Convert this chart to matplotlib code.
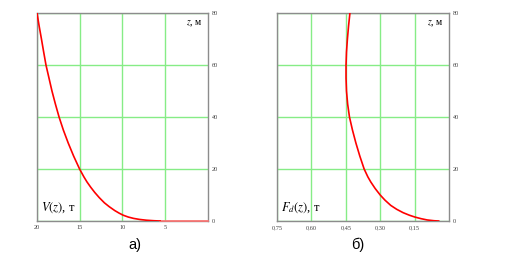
import matplotlib
matplotlib.use("Agg")
import matplotlib.pyplot as plt

plt.rcParams['font.family'] = ['Liberation Serif', 'DejaVu Serif']
plt.rcParams['mathtext.fontset'] = 'stix'

# panel a) V(z)
z_a = [80, 75, 70, 65, 60, 55, 50, 45, 40, 35, 30, 25, 20, 17, 15, 13, 11,
       9, 7, 5.5, 4, 3, 2.2, 1.5, 1.0, 0.6, 0.3, 0.1, 0]
v_a = [20, 19.75, 19.48, 19.22, 18.95, 18.6, 18.25, 17.85, 17.42, 16.92, 16.35,
       15.72, 15.02, 14.52, 14.15, 13.72, 13.25, 12.72, 12.12, 11.55, 10.9,
       10.38, 9.9, 9.3, 8.7, 8.0, 7.2, 6.3, 5.6]
v_tail = [5.6, 0]
z_tail = [0, 0]

# panel b) Fd(z)
z_b = [80, 75, 70, 65, 60, 55, 50, 45, 40, 35, 30, 25, 20, 17, 15, 12.5, 10,
       8, 6, 4.5, 3.2, 2.2, 1.5, 0.9, 0.4, 0.1, 0]
f_b = [0.432, 0.438, 0.443, 0.447, 0.449, 0.449, 0.447, 0.442, 0.434, 0.421,
       0.406, 0.389, 0.370, 0.354, 0.341, 0.322, 0.300, 0.279, 0.254, 0.228,
       0.200, 0.172, 0.148, 0.122, 0.095, 0.065, 0.045]

xt_a = [20, 15, 10, 5]
xt_b = [0.75, 0.60, 0.45, 0.30, 0.15]
yt = [0, 20, 40, 60, 80]

fig = plt.figure(figsize=(5.1, 2.56), dpi=100)
ax1 = fig.add_axes([37/510, 1-221/256, 171/510, 208/256])
ax2 = fig.add_axes([277/510, 1-221/256, 172/510, 208/256])

grid_c = '#86ec86'
for ax in (ax1, ax2):
    ax.set_ylim(0, 80)
    ax.set_yticks(yt)
    ax.set_yticklabels([str(t) for t in yt])
    ax.yaxis.tick_right()
    ax.tick_params(length=0, labelsize=4.5, colors='#404040', pad=3)
    for s in ax.spines.values():
        s.set_color('#8c8c8c')
        s.set_linewidth(1)
    ax.grid(True, color=grid_c, lw=1)
    ax.set_axisbelow(True)

ax1.set_xlim(20, 0)
ax1.set_xticks(xt_a)
ax1.set_xticklabels([str(t) for t in xt_a])
ax1.plot(v_tail, z_tail, color='#ff7070', lw=1.2, clip_on=False, zorder=3)
ax1.plot(v_a, z_a, color='red', lw=1.2, zorder=4)
ax1.text(0.97, 0.975, r'$z$, м', transform=ax1.transAxes, ha='right', va='top', fontsize=7)
ax1.text(0.025, 0.03, r'$V\left(z\right)$, т', transform=ax1.transAxes, ha='left', va='bottom', fontsize=9)

ax2.set_xlim(0.75, 0)
ax2.set_xticks(xt_b)
ax2.set_xticklabels([('%.2f' % t).replace('.', ',') for t in xt_b])
ax2.plot(f_b, z_b, color='red', lw=1.2, zorder=4)
ax2.text(0.97, 0.975, r'$z$, м', transform=ax2.transAxes, ha='right', va='top', fontsize=7)
ax2.text(0.025, 0.03, r'$F_d\left(z\right)$, т', transform=ax2.transAxes, ha='left', va='bottom', fontsize=9)

fig.text(135/510, 1-245/256, 'а)', ha='center', va='center', fontsize=10.5, family='Liberation Sans')
fig.text(358/510, 1-245/256, 'б)', ha='center', va='center', fontsize=10.5, family='Liberation Sans')

fig.savefig('out.png', dpi=100)
